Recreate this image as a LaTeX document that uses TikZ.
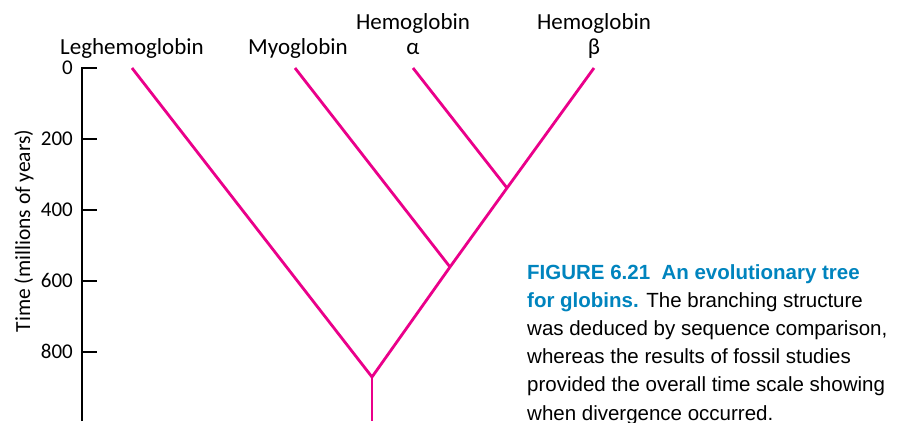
\documentclass[tikz,border=0pt]{standalone}
\usepackage{fontspec}
\usepackage{tikz}
\usetikzlibrary{calc}
\newfontfamily\lblfont{Carlito}
\newfontfamily\capfont{Liberation Sans}
\definecolor{cbranch}{RGB}{234,0,138}
\definecolor{ccap}{RGB}{0,132,190}

\begin{document}
\begin{tikzpicture}[
  x=1pt, y=-1pt,
  taxon/.style={inner sep=0pt, font=\lblfont\fontsize{23}{25}\selectfont, align=center},
  ticklbl/.style={inner sep=0pt, anchor=east, font=\lblfont\fontsize{21}{23}\selectfont},
  branch/.style={cbranch, line width=2.8pt, line cap=butt, line join=miter},
  axis/.style={black, line width=1.3pt},
]
\useasboundingbox (0,0) rectangle (900,423);

% ---- taxon labels ----
\node[taxon, anchor=base] (leg) at (132,54) {Leghemoglobin};
\node[taxon, anchor=base] (myo) at (298,54) {Myoglobin};
\node[taxon, anchor=north] (hba) at (413,13) {Hemoglobin\\α};
\node[taxon, anchor=north] (hbb) at (594,13) {Hemoglobin\\β};

% ---- tips and branch points ----
\coordinate (tleg) at (132,68);
\coordinate (tmyo) at (295,68);
\coordinate (thba) at (413,68);
\coordinate (thbb) at (594,68);
\coordinate (jab) at (507,188);
\coordinate (jmyo) at (450,267);
\coordinate (root) at (372,377);
\coordinate (base) at (372,421);

% ---- tree ----
\draw[branch] (tleg) -- (root);
\draw[branch] (tmyo) -- (jmyo);
\draw[branch] (thba) -- (jab);
\draw[branch] (thbb) -- (jab) -- (jmyo) -- (root);
\draw[branch] (root) -- (base);

% ---- time axis ----
\coordinate (atop) at (82,68);
\coordinate (abot) at (82,421);
\draw[axis] (abot) -- (atop) -- ++(15,0);
\foreach \t in {200,400,...,800}
  \draw[axis] ($(atop)+(0,0.355*\t)$) -- ++(15,0);
\foreach \t in {0,200,...,800}
  \node[ticklbl] (tick\t) at ($(atop)+(-9,0.355*\t-0.5)$) {\t};
\node[rotate=90, inner sep=0pt, font=\lblfont\fontsize{21.5}{23}\selectfont] (ylab) at (24,231) {Time (millions of years)};

% ---- caption ----
\node[anchor=north west, inner sep=0pt, align=left,
      font=\capfont\fontsize{20.5}{28.2}\selectfont] (cap) at (527,264)
  {\textcolor{ccap}{\bfseries FIGURE 6.21\hspace{0.55em}An evolutionary tree}\\
   \textcolor{ccap}{\bfseries for globins.} The branching structure\\
   was deduced by sequence comparison,\\
   whereas the results of fossil studies\\
   provided the overall time scale showing\\
   when divergence occurred.};
\end{tikzpicture}
\end{document}
